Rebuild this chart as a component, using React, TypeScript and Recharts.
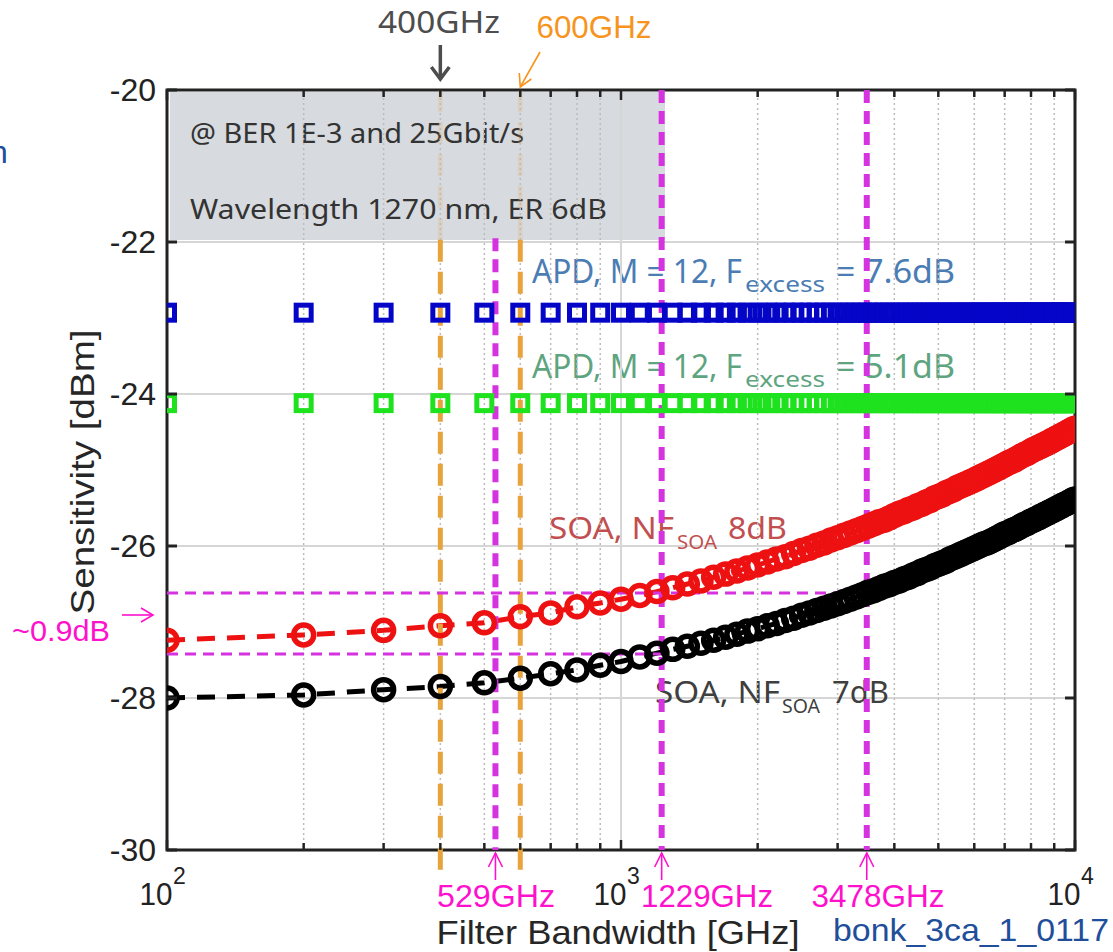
import React from 'react';
import {
  ComposedChart,
  Line,
  XAxis,
  YAxis,
  CartesianGrid,
  ReferenceLine,
  ReferenceArea,
  Customized,
} from 'recharts';

// filter bandwidth grid [GHz]
const bandwidth = [
  100, 200, 300, 400, 500, 600, 700, 800, 900, 1000,
  1100, 1200, 1300, 1400, 1500, 1600, 1700, 1800, 1900, 2000,
  2100, 2200, 2300, 2400, 2500, 2600, 2700, 2800, 2900, 3000,
  3100, 3200, 3300, 3400, 3500, 3600, 3700, 3800, 3900, 4000,
  4100, 4200, 4300, 4400, 4500, 4600, 4700, 4800, 4900, 5000,
  5100, 5200, 5300, 5400, 5500, 5600, 5700, 5800, 5900, 6000,
  6100, 6200, 6300, 6400, 6500, 6600, 6700, 6800, 6900, 7000,
  7100, 7200, 7300, 7400, 7500, 7600, 7700, 7800, 7900, 8000,
  8100, 8200, 8300, 8400, 8500, 8600, 8700, 8800, 8900, 9000,
  9100, 9200, 9300, 9400, 9500, 9600, 9700, 9800, 9900, 10000,
];

// SOA, NF 8dB  [dBm]
const soa8dB = [
  -27.24, -27.17, -27.11, -27.05, -27.01, -26.93, -26.88, -26.8, -26.75, -26.7,
  -26.65, -26.6, -26.55, -26.5, -26.46, -26.41, -26.37, -26.33, -26.29, -26.25,
  -26.21, -26.17, -26.14, -26.1, -26.06, -26.03, -25.99, -25.96, -25.92, -25.89,
  -25.86, -25.83, -25.8, -25.77, -25.74, -25.71, -25.68, -25.66, -25.63, -25.6,
  -25.57, -25.55, -25.52, -25.5, -25.47, -25.45, -25.42, -25.4, -25.37, -25.35,
  -25.33, -25.3, -25.28, -25.26, -25.23, -25.21, -25.19, -25.17, -25.15, -25.13,
  -25.11, -25.09, -25.07, -25.05, -25.03, -25.01, -24.99, -24.97, -24.95, -24.93,
  -24.91, -24.89, -24.88, -24.86, -24.84, -24.82, -24.8, -24.79, -24.77, -24.75,
  -24.73, -24.72, -24.7, -24.69, -24.67, -24.66, -24.64, -24.63, -24.61, -24.6,
  -24.58, -24.57, -24.55, -24.54, -24.52, -24.51, -24.49, -24.48, -24.46, -24.45,
];

// SOA, NF 7dB  [dBm]
const soa7dB = [
  -28.0, -27.96, -27.89, -27.85, -27.8, -27.74, -27.68, -27.63, -27.57, -27.52,
  -27.46, -27.41, -27.36, -27.32, -27.28, -27.24, -27.2, -27.16, -27.12, -27.09,
  -27.05, -27.02, -26.98, -26.95, -26.91, -26.88, -26.85, -26.82, -26.79, -26.76,
  -26.73, -26.7, -26.67, -26.64, -26.61, -26.59, -26.56, -26.53, -26.51, -26.48,
  -26.46, -26.43, -26.41, -26.38, -26.36, -26.33, -26.31, -26.29, -26.26, -26.24,
  -26.22, -26.2, -26.17, -26.15, -26.13, -26.11, -26.09, -26.07, -26.05, -26.03,
  -26.01, -25.99, -25.97, -25.96, -25.94, -25.92, -25.9, -25.88, -25.86, -25.84,
  -25.83, -25.81, -25.79, -25.78, -25.76, -25.74, -25.72, -25.71, -25.69, -25.67,
  -25.66, -25.64, -25.63, -25.61, -25.6, -25.58, -25.57, -25.55, -25.54, -25.52,
  -25.51, -25.49, -25.48, -25.46, -25.45, -25.44, -25.42, -25.41, -25.39, -25.38,
];

// APD sensitivities do not depend on the filter bandwidth
const APD_F76 = -22.93;
const APD_F51 = -24.12;

const yTicks = [-30, -28, -26, -24, -22, -20];
const xTicks = [
  100, 200, 300, 400, 500, 600, 700, 800, 900, 1000,
  2000, 3000, 4000, 5000, 6000, 7000, 8000, 9000, 10000,
];
const minorGridX = [200, 300, 400, 500, 600, 700, 800, 900, 2000, 3000, 4000, 5000, 6000, 7000, 8000, 9000];

const orangeMarks = [400, 600];
const magentaMarks = [529, 1229, 3478];
const levelUpper = -26.62; // meets SOA 7dB at 3478 GHz
const levelLower = -27.42; // meets SOA 7dB at 1229 GHz
const BOX_BOTTOM = -21.97;

const data = bandwidth.map((bw, i) => ({
  bw,
  apd76: APD_F76,
  apd51: APD_F51,
  soa8: soa8dB[i],
  soa7: soa7dB[i],
}));

const AXIS_FONT = '"Liberation Sans", Arial, sans-serif';
const LABEL_FONT = '"Noto Sans", "Open Sans", sans-serif';
const MAGENTA = '#d533df';
const PINK = '#ff10cc';
const ORANGE = '#e9a33c';

// pixel helper for annotation arrows only (same layout as the chart)
const PLOT_L = 167;
const PLOT_R = 1075;
const px = (bw: number) => PLOT_L + ((PLOT_R - PLOT_L) * Math.log10(bw / 100)) / 2;

const circleDot = (color: string) => (p: any) => {
  if (p.cx == null || p.cy == null) return <g key={`e${p.index}`} />;
  return (
    <circle key={`c${color}${p.index}`} cx={p.cx} cy={p.cy} r={10} fill="none" stroke={color} strokeWidth={5.5} />
  );
};

const squareDot = (color: string) => (p: any) => {
  if (p.cx == null || p.cy == null) return <g key={`e${p.index}`} />;
  return (
    <rect
      key={`s${color}${p.index}`}
      x={p.cx - 7.5}
      y={p.cy - 7.5}
      width={15}
      height={15}
      fill="none"
      stroke={color}
      strokeWidth={5}
    />
  );
};

function LeftTick({ x, y, payload }: any) {
  return (
    <g>
      <text x={x - 1} y={y} dy={11} textAnchor="end" fontSize={32} fontFamily={AXIS_FONT} fill="#222">
        {payload.value}
      </text>
      <line x1={x + 10} x2={x + 20} y1={y} y2={y} stroke="#222" strokeWidth={3} />
    </g>
  );
}

function RightTick({ x, y }: any) {
  return <line x1={x - 10} x2={x - 20} y1={y} y2={y} stroke="#222" strokeWidth={3} />;
}

function BottomTick({ x, y, payload }: any) {
  const v = payload.value;
  const major = v === 100 || v === 1000 || v === 10000;
  const len = major ? 10 : 7;
  return (
    <g>
      <line x1={x} x2={x} y1={y - 10} y2={y - 10 - len} stroke="#222" strokeWidth={2.5} />
      {major && (
        <g fontFamily={AXIS_FONT} fill="#222">
          <text x={x - 11} y={y + 45} textAnchor="middle" fontSize={32} textLength={33} lengthAdjust="spacingAndGlyphs">
            10
          </text>
          <text x={x + 6} y={y + 24} textAnchor="start" fontSize={23}>
            {Math.round(Math.log10(v))}
          </text>
        </g>
      )}
    </g>
  );
}

function TopTick({ x, y, payload }: any) {
  const v = payload.value;
  const major = v === 100 || v === 1000 || v === 10000;
  const len = major ? 10 : 7;
  return <line x1={x} x2={x} y1={y + 10} y2={y + 10 + len} stroke="#222" strokeWidth={2.5} />;
}

function UpArrow({ x }: { x: number }) {
  return (
    <g stroke={PINK} strokeWidth={1.6} fill="none">
      <line x1={x} x2={x} y1={880} y2={853} />
      <polyline points={`${x - 7},${867} ${x},${853} ${x + 7},${867}`} />
    </g>
  );
}

function Annotations() {
  return (
    <g>
      {/* info box */}
      <rect x={170} y={92} width={495} height={148} fill="#d7dade" />
      <g fontFamily={LABEL_FONT} fill="#333">
        <text x={190} y={143} fontSize={28} textLength={334} lengthAdjust="spacingAndGlyphs">
          @ BER 1E-3 and 25Gbit/s
        </text>
        <text x={190} y={219} fontSize={28} textLength={417} lengthAdjust="spacingAndGlyphs">
          Wavelength 1270 nm, ER 6dB
        </text>
      </g>

      {/* series labels */}
      <g fontFamily={LABEL_FONT} fill="#4b7db4">
        <text x={532} y={283} fontSize={32} textLength={210} lengthAdjust="spacingAndGlyphs">APD, M = 12, F</text>
        <text x={745} y={292} fontSize={22} textLength={80} lengthAdjust="spacingAndGlyphs">excess</text>
        <text x={836} y={283} fontSize={32} textLength={119} lengthAdjust="spacingAndGlyphs">= 7.6dB</text>
      </g>
      <g fontFamily={LABEL_FONT} fill="#5ea57f">
        <text x={532} y={378} fontSize={32} textLength={210} lengthAdjust="spacingAndGlyphs">APD, M = 12, F</text>
        <text x={745} y={387} fontSize={22} textLength={80} lengthAdjust="spacingAndGlyphs">excess</text>
        <text x={836} y={378} fontSize={32} textLength={119} lengthAdjust="spacingAndGlyphs">= 5.1dB</text>
      </g>
      <g fontFamily={LABEL_FONT} fill="#c24f50">
        <text x={549} y={539} fontSize={31} textLength={125} lengthAdjust="spacingAndGlyphs">SOA, NF</text>
        <text x={677} y={549} fontSize={20} textLength={40} lengthAdjust="spacingAndGlyphs">SOA</text>
        <text x={728} y={539} fontSize={31} textLength={59} lengthAdjust="spacingAndGlyphs">8dB</text>
      </g>
      <g fontFamily={LABEL_FONT} fill="#3f3f3f">
        <text x={655} y={703} fontSize={31} textLength={125} lengthAdjust="spacingAndGlyphs">SOA, NF</text>
        <text x={782} y={713} fontSize={20} textLength={38} lengthAdjust="spacingAndGlyphs">SOA</text>
        <text x={832} y={703} fontSize={31} textLength={57} lengthAdjust="spacingAndGlyphs">7dB</text>
      </g>

      {/* axis titles */}
      <text
        transform="rotate(-90)"
        x={-472}
        y={94}
        textAnchor="middle"
        fontSize={34}
        fontFamily={AXIS_FONT}
        fill="#262626"
        textLength={285}
        lengthAdjust="spacingAndGlyphs"
      >
        Sensitivity [dBm]
      </text>
      <text
        x={618}
        y={944}
        textAnchor="middle"
        fontSize={33}
        fontFamily={AXIS_FONT}
        fill="#262626"
        textLength={363}
        lengthAdjust="spacingAndGlyphs"
      >
        Filter Bandwidth [GHz]
      </text>

      {/* top annotations */}
      <text x={439} y={33} textAnchor="middle" fontSize={30} fontFamily={LABEL_FONT} fill="#4d4d4d" textLength={122} lengthAdjust="spacingAndGlyphs">
        400GHz
      </text>
      <g stroke="#4d4d4d" strokeWidth={3.5} fill="none">
        <line x1={px(400)} x2={px(400)} y1={45} y2={79} />
        <polyline points={`${px(400) - 9},${67} ${px(400)},${79} ${px(400) + 9},${67}`} />
      </g>
      <text x={594} y={38} textAnchor="middle" fontSize={32} fontFamily={AXIS_FONT} fill="#f7941d" textLength={115} lengthAdjust="spacingAndGlyphs">
        600GHz
      </text>
      <g stroke="#f7941d" strokeWidth={1.6} fill="none">
        <line x1={540} x2={px(600)} y1={52} y2={87} />
        <polyline points={`${px(600) - 1},${73} ${px(600)},${87} ${px(600) + 11},${79}`} />
      </g>

      {/* left annotation */}
      <text x={12} y={641} fontSize={30} fontFamily={AXIS_FONT} fill={PINK} textLength={98} lengthAdjust="spacingAndGlyphs">
        ~0.9dB
      </text>
      <g stroke={PINK} strokeWidth={1.6} fill="none">
        <line x1={122} x2={153} y1={615} y2={615} />
        <polyline points={`${141},${608} ${153},${615} ${141},${622}`} />
      </g>

      {/* bottom annotations */}
      <UpArrow x={px(529)} />
      <UpArrow x={px(1229)} />
      <UpArrow x={px(3478)} />
      <g fontFamily={AXIS_FONT} fill={PINK} fontSize={32}>
        <text x={496} y={907} textAnchor="middle" textLength={118} lengthAdjust="spacingAndGlyphs">529GHz</text>
        <text x={707} y={907} textAnchor="middle" textLength={132} lengthAdjust="spacingAndGlyphs">1229GHz</text>
        <text x={878} y={907} textAnchor="middle" textLength={133} lengthAdjust="spacingAndGlyphs">3478GHz</text>
      </g>

      <text x={833} y={941} fontSize={32} fontFamily={AXIS_FONT} fill="#1f4e9a" textLength={276} lengthAdjust="spacingAndGlyphs">
        bonk_3ca_1_0117
      </text>
      <text x={-10} y={163} fontSize={32} fontFamily={AXIS_FONT} fill="#1f4e9a">
        n
      </text>
    </g>
  );
}

export default function App() {
  return (
    <div style={{ position: 'absolute', left: 0, top: 0, width: 1113, height: 952, background: '#fff' }}>
      <ComposedChart width={1113} height={952} data={data} margin={{ top: 60, right: 8, bottom: 0, left: 0 }}>
        <CartesianGrid vertical={false} stroke="#d6d6d6" strokeWidth={2} />
        <XAxis
          dataKey="bw"
          type="number"
          scale="log"
          domain={[100, 10000]}
          ticks={xTicks}
          interval={0}
          allowDataOverflow
          height={102}
          tickSize={0}
          tickMargin={10}
          axisLine={false}
          tickLine={false}
          tick={<BottomTick />}
        />
        <XAxis
          xAxisId="top"
          orientation="top"
          dataKey="bw"
          type="number"
          scale="log"
          domain={[100, 10000]}
          ticks={xTicks}
          interval={0}
          allowDataOverflow
          height={30}
          tickSize={0}
          tickMargin={10}
          axisLine={false}
          tickLine={false}
          tick={<TopTick />}
        />
        <YAxis
          type="number"
          domain={[-30, -20]}
          ticks={yTicks}
          interval={0}
          allowDataOverflow
          width={167}
          tickSize={0}
          tickMargin={10}
          axisLine={false}
          tickLine={false}
          tick={<LeftTick />}
        />
        <YAxis
          yAxisId="right"
          orientation="right"
          type="number"
          domain={[-30, -20]}
          ticks={yTicks}
          interval={0}
          allowDataOverflow
          width={30}
          tickSize={0}
          tickMargin={10}
          axisLine={false}
          tickLine={false}
          tick={<RightTick />}
        />

        {minorGridX.map((v) => (
          <ReferenceLine key={`g${v}`} x={v} stroke="#bcbcbc" strokeWidth={1.5} strokeDasharray="2 3" />
        ))}
        <ReferenceLine x={1000} stroke="#d6d6d6" strokeWidth={2} />

        <Customized component={<Annotations />} />

        <Line dataKey="apd76" stroke="none" dot={squareDot('#0505c8')} activeDot={false} isAnimationActive={false} />
        <Line dataKey="apd51" stroke="none" dot={squareDot('#1ee21e')} activeDot={false} isAnimationActive={false} />
        <Line
          dataKey="soa8"
          stroke="#ee1111"
          strokeWidth={5}
          strokeDasharray="18 12"
          dot={circleDot('#ee1111')}
          activeDot={false}
          isAnimationActive={false}
        />
        <Line
          dataKey="soa7"
          stroke="#000"
          strokeWidth={5}
          strokeDasharray="18 12"
          dot={circleDot('#000')}
          activeDot={false}
          isAnimationActive={false}
        />

        {orangeMarks.map((v) => (
          <ReferenceLine
            key={`of${v}`}
            segment={[{ x: v, y: -20 }, { x: v, y: BOX_BOTTOM }]}
            stroke={ORANGE}
            strokeOpacity={0.15}
            strokeWidth={5}
            strokeDasharray="22 10"
          />
        ))}
        {orangeMarks.map((v) => (
          <ReferenceLine
            key={`o${v}`}
            segment={[{ x: v, y: BOX_BOTTOM }, { x: v, y: -30.27 }]}
            ifOverflow="visible"
            stroke={ORANGE}
            strokeWidth={5}
            strokeDasharray="22 10"
          />
        ))}

        <ReferenceLine
          segment={[{ x: 100, y: levelUpper }, { x: magentaMarks[2], y: levelUpper }]}
          stroke={MAGENTA}
          strokeWidth={3}
          strokeDasharray="11 7"
        />
        <ReferenceLine
          segment={[{ x: 100, y: levelLower }, { x: magentaMarks[1], y: levelLower }]}
          stroke={MAGENTA}
          strokeWidth={3}
          strokeDasharray="11 7"
        />
        <ReferenceLine
          segment={[{ x: magentaMarks[0], y: -21.95 }, { x: magentaMarks[0], y: -30 }]}
          stroke={MAGENTA}
          strokeWidth={6}
          strokeDasharray="13 8"
        />
        {magentaMarks.slice(1).map((v) => (
          <ReferenceLine
            key={`m${v}`}
            segment={[{ x: v, y: -20 }, { x: v, y: -30 }]}
            stroke={MAGENTA}
            strokeWidth={6}
            strokeDasharray="13 8"
          />
        ))}

        <ReferenceArea x1={100} x2={10000} y1={-30} y2={-20} fill="none" fillOpacity={0} stroke="#222" strokeWidth={3} />
      </ComposedChart>
    </div>
  );
}
